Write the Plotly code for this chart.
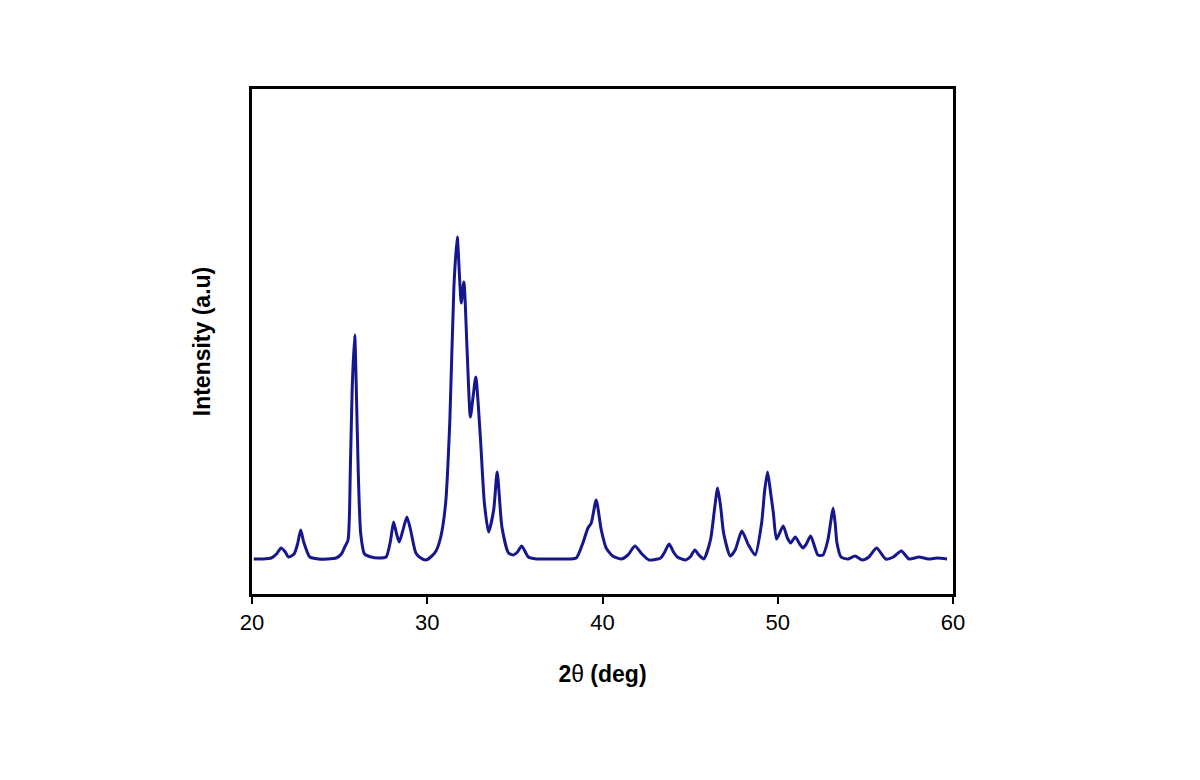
import plotly.graph_objects as go

two_theta = [20.1, 20.6, 21.1, 21.4, 21.66, 21.9, 22.08, 22.4, 22.6, 22.78, 22.95, 23.3, 23.8, 24.3, 24.8,
             25.1, 25.29, 25.48, 25.61, 25.72, 25.86, 25.95, 26.06, 26.2, 26.42, 26.8, 27.2, 27.65, 27.9,
             28.08, 28.25, 28.4, 28.6, 28.84, 29.05, 29.35, 29.63, 29.92, 30.2, 30.5, 30.77, 31.05, 31.29,
             31.52, 31.71, 31.84, 31.94, 32.09, 32.28, 32.46, 32.62, 32.77, 33.03, 33.26, 33.5, 33.79, 33.99,
             34.26, 34.64, 34.92, 35.15, 35.39, 35.77, 36.24, 37.0, 37.8, 38.5, 38.88, 39.17, 39.36, 39.64,
             39.93, 40.21, 40.58, 41.06, 41.45, 41.85, 42.25, 42.66, 43.32, 43.55, 43.8, 44.05, 44.27, 44.74,
             45.0, 45.27, 45.5, 45.78, 46.16, 46.4, 46.57, 46.75, 46.91, 47.29, 47.57, 47.95, 48.33, 48.71,
             49.08, 49.25, 49.42, 49.58, 49.75, 49.93, 50.31, 50.55, 50.74, 51.0, 51.25, 51.44, 51.63, 51.88,
             52.29, 52.58, 52.86, 53.03, 53.16, 53.28, 53.38, 53.61, 54.0, 54.41, 54.82, 55.2, 55.64, 56.16,
             56.6, 57.05, 57.49, 58.05, 58.6, 59.1, 59.66]

intensity = [37, 37, 38, 42, 48, 44, 39, 42, 52, 66, 54, 39, 37, 37, 38,
             42, 49, 56, 126, 209, 261, 209, 126, 63, 42, 39, 38, 39, 55,
             74, 62, 54, 65, 79, 66, 43, 38, 36, 39, 45, 59, 93, 176,
             309, 359, 320, 293, 314, 243, 179, 200, 219, 159, 93, 64, 86, 124,
             69, 43, 41, 44, 50, 39, 37, 37, 37, 38, 53, 68, 73, 96,
             66, 48, 40, 37, 41, 50, 42, 36, 38, 44, 52, 44, 39, 36,
             39, 46, 41, 37, 56, 88, 108, 88, 63, 40, 46, 65, 51, 41,
             73, 105, 124, 105, 83, 57, 70, 58, 53, 59, 52, 48, 52, 60,
             41, 41, 56, 75, 88, 72, 53, 39, 37, 40, 36, 39, 48, 37,
             39, 45, 37, 39, 37, 38, 37]

x_ticks = [20, 30, 40, 50, 60]

FONT = "Liberation Sans, Arial, sans-serif"

fig = go.Figure()
fig.add_trace(go.Scatter(
    x=two_theta, y=intensity, mode="lines",
    line=dict(color="#16168f", width=3, shape="spline", smoothing=0.6),
    showlegend=False, hoverinfo="x+y"
))

fig.update_layout(
    width=1200, height=780,
    margin=dict(l=252, r=247, t=89, b=186),
    paper_bgcolor="white", plot_bgcolor="white",
    font=dict(family=FONT, color="black", size=22),
    xaxis=dict(
        range=[20, 60], tickvals=x_ticks, ticktext=[str(v) for v in x_ticks],
        ticks="outside", ticklen=7, tickwidth=1.5, tickcolor="black",
        showline=True, linecolor="black", linewidth=3, mirror=True,
        showgrid=False, zeroline=False,
        tickfont=dict(size=22, family=FONT),
        title=dict(text="<b>2</b>θ<b> (deg)</b>", standoff=32,
                   font=dict(size=23, family=FONT)),
    ),
    yaxis=dict(
        range=[2, 507], showticklabels=False, ticks="",
        showline=True, linecolor="black", linewidth=3, mirror=True,
        showgrid=False, zeroline=False,
        title=dict(text="<b>Intensity (a.u)</b>", standoff=32,
                   font=dict(size=23, family=FONT)),
    ),
)

fig.write_html("out.html")
